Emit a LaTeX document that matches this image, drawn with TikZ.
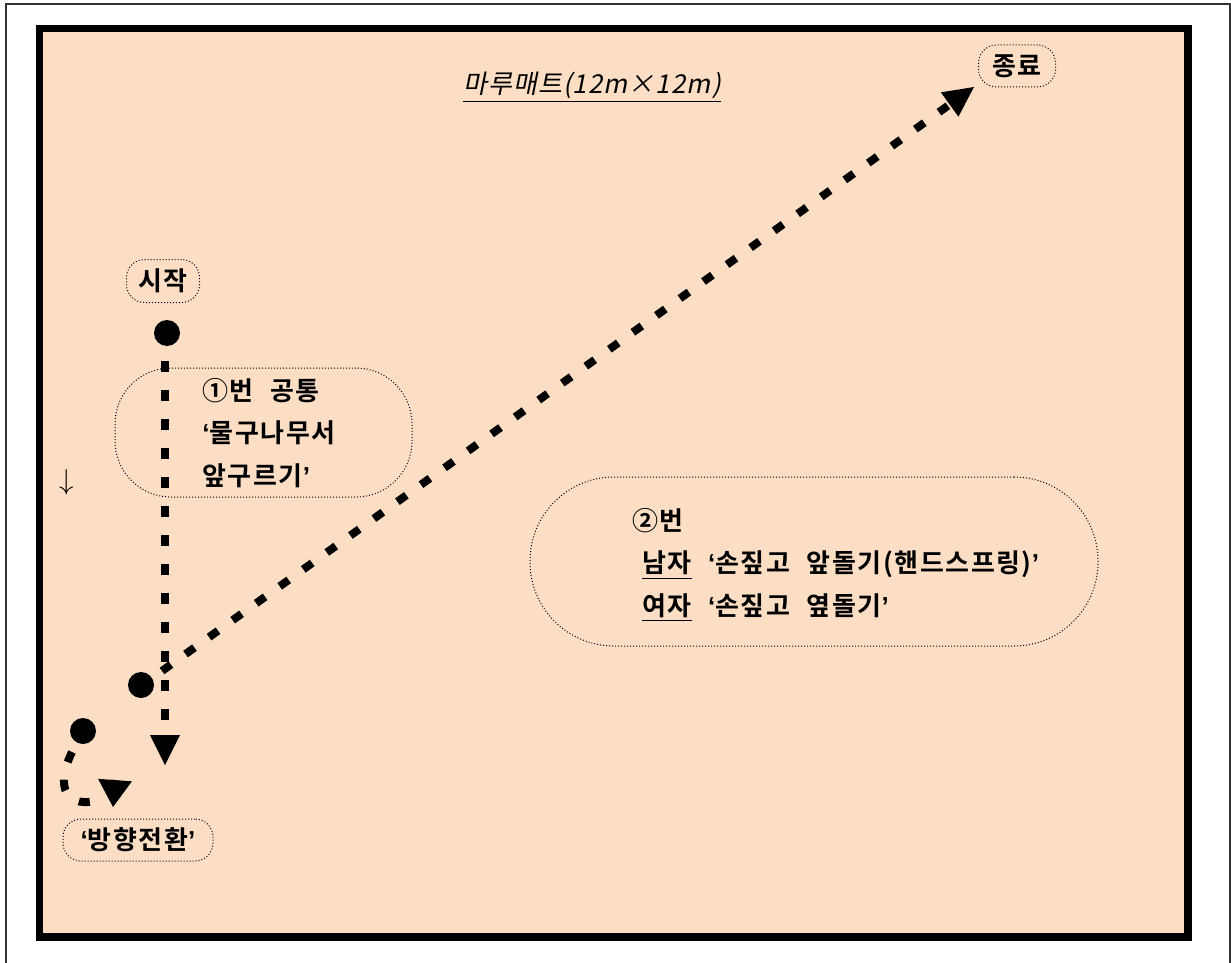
\documentclass[tikz,border=0pt]{standalone}
\usepackage{fontspec}
\setmainfont{Noto Sans CJK KR}[BoldFont = * Bold, LetterSpace = 6, WordSpace = 2.2]
\newfontfamily\titlefont{Noto Sans CJK KR}[FakeSlant = 0.2, LetterSpace = 4]
\newfontfamily\quotefont{Liberation Sans}
\newcommand{\openq}{{\quotefont ‘}}
\newcommand{\closeq}{{\quotefont ’}}
\usepackage{tikz}
\usetikzlibrary{arrows.meta}
\definecolor{mat}{RGB}{252,222,197}

\begin{document}
\begin{tikzpicture}[x=0.5pt, y=-0.5pt,
    tag/.style = {draw, line width=0.5pt, dash pattern=on 0.5pt off 1pt, rounded corners=9pt, inner sep=0pt, font=\bfseries\fontsize{13pt}{15pt}\selectfont},
    lane/.style = {draw, line width=0.5pt, dash pattern=on 0.5pt off 1pt, inner sep=0pt},
    script/.style = {align=left, inner sep=0pt, font=\bfseries\fontsize{13pt}{21.25pt}\selectfont},
    track/.style = {line width=4pt, dash pattern=on 5.5pt off 9pt},
    head/.style = {-{Triangle[length=15pt, width=15pt, line width=0pt]}},
    dot/.style = {circle, fill=black, inner sep=0pt, minimum size=13pt}]
    \useasboundingbox (0,0) rectangle (1231,963);

    \draw[line width=1pt, black!80] (5.5,990) -- (5.5,4.5) -- (1230,4.5) -- (1230,990);
    \draw[line width=3.75pt, fill=mat] (39.5,28.5) rectangle (1188,937);

    \node[font=\titlefont\fontsize{13pt}{15pt}\selectfont] (title) at (592,87) {\underline{마루매트(12m×12m)}};
    \node (cue) at (67,482) {\fontsize{14pt}{14pt}\selectfont$\downarrow$};

    % the two movement boxes
    \node[lane, rounded corners=28pt, minimum width=148.5pt, minimum height=64.5pt] (moveabox) at (263.5,432.5) {};
    \node[script, anchor=west] (movea) at (202,433) {①번 공통\\\openq 물구나무서\\앞구르기\closeq};
    \node[lane, rounded corners=42pt, minimum width=284pt, minimum height=84.5pt] (moveb box) at (814,561.5) {};
    \node[script, anchor=west] (moveb) at (632,565) {②번\\\hspace*{5pt}\underline{남자} \openq 손짚고 앞돌기(핸드스프링)\closeq\\\hspace*{5pt}\underline{여자} \openq 손짚고 옆돌기\closeq};

    \coordinate (vtop) at (165,361);
    \coordinate (vtip) at (165,765);
    \coordinate (dstart) at (162,671);
    \coordinate (dtip) at (974,87);
    \coordinate (cstart) at (72,752);
    \coordinate (cend) at (96,801);
    \coordinate (cbase) at (115,780);
    \coordinate (ctip) at (113,807);

    \draw[track, head] (vtop) -- (vtip);
    \draw[track, head] (dstart) -- (dtip);
    \draw[track] (cstart) .. controls (58,780) and (60,808) .. (cend);
    \draw[track, -{Triangle[length=13.5pt, width=17pt, line width=0pt]}] (cbase) -- (ctip);

    \node[dot] (startdot) at (167,333) {};
    \node[dot] (jumpdot) at (141,685) {};
    \node[dot] (turndot) at (83,731) {};

    \node[tag, minimum width=36.5pt, minimum height=21.5pt] (start) at (163,281) {시작};
    \node[tag, minimum width=38.5pt, minimum height=21pt] (finish) at (1017,66) {종료};
    \node[tag, minimum width=75pt, minimum height=21pt] (turn) at (138,840) {\openq 방향전환\closeq};

    % \draw[help lines, step=50] (0,0) grid (1231,963);
\end{tikzpicture}
\end{document}
